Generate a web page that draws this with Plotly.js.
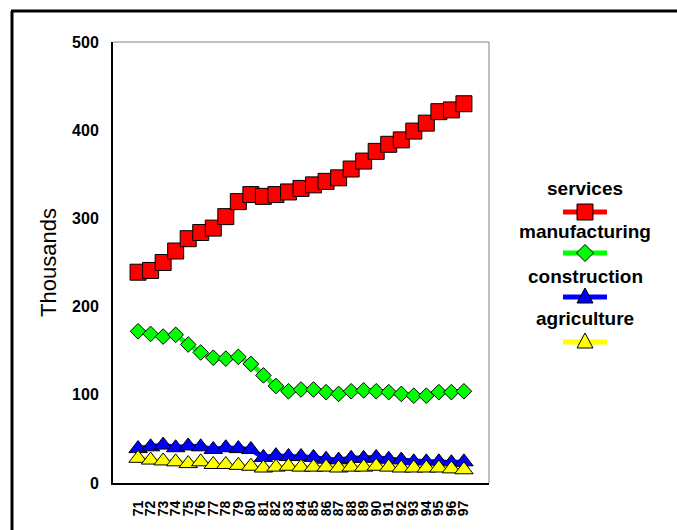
<!DOCTYPE html>
<html>
<head>
<meta charset="utf-8">
<script src="https://cdn.plot.ly/plotly-3.0.1.min.js"></script>
<style>html,body{margin:0;padding:0;background:#fff}#chart{width:677px;height:530px}</style>
</head>
<body>
<div id="chart"></div>
<script>
const years = ['71','72','73','74','75','76','77','78','79','80','81','82','83','84','85','86','87','88','89','90','91','92','93','94','95','96','97'];
const seriesNames = ['services','manufacturing','construction','agriculture'];
const services = [239,241,250,263,277,284,289,302,319,327,325,327,330,334,338,342,346,356,365,376,384,389,399,408,421,423,430];
const manufacturing = [172,169,166,168,157,148,142,141,143,135,122,110,104,106,106,103,101,104,105,104,103,101,99,99,103,103,104];
const construction = [39,41,43,40,42,41,38,40,39,38,29,31,30,30,29,27,26,28,28,29,27,26,24,24,24,23,24];
const agriculture = [28,26,25,24,22,24,21,21,20,19,17,18,19,18,18,18,17,18,18,19,18,17,17,17,17,16,15];
const yTicks = [0,100,200,300,400,500];

const values = [services, manufacturing, construction, agriculture];
const colors = ['#FF0000','#00FF00','#0000FF','#FFFF00'];
const symbols = ['square','diamond','triangle-up','triangle-up'];
const sizes = [16,12,16,16];

const FONT = 'Arial, "Liberation Sans", sans-serif';

const traces = values.map((v,i)=>({
  type:'scatter', mode:'lines+markers', name:seriesNames[i],
  x:years, y:v,
  line:{color:colors[i], width:5},
  marker:{symbol:symbols[i], size:sizes[i], color:colors[i], line:{color:'#000', width:1}},
  showlegend:false, hoverinfo:'x+y+name'
}));

// layout geometry (paper coords)
const W=677,H=530, L=113, R=489, T=42, B=483;
const px = x => (x-L)/(R-L);
const py = y => (B-y)/(B-T);

const shapes = [
  // outer frame (left & top)
  {type:'line', xref:'paper', yref:'paper', x0:px(12), x1:px(12), y0:py(11), y1:py(535), line:{color:'#000', width:3}},
  {type:'line', xref:'paper', yref:'paper', x0:px(11), x1:px(680), y0:py(11), y1:py(11), line:{color:'#000', width:3}},
  // plot frame top & right (gray thin)
  {type:'line', xref:'paper', yref:'paper', x0:0, x1:1, y0:1, y1:1, line:{color:'#808080', width:1}},
  {type:'line', xref:'paper', yref:'paper', x0:1, x1:1, y0:0, y1:1, line:{color:'#808080', width:1}}
];
const annotations = [];
const legNameY = [188,232,276,318];
const legLineY = [212,253,297,342];
const legX = 585;
const markerPaths = [
  'M-8,-8H8V8H-8Z',
  'M-8.5,0L0,8.5L8.5,0L0,-8.5Z',
  'M-8,-6L8,-6L0,9Z',
  'M-8,-6L8,-6L0,9Z'
];
seriesNames.forEach((n,i)=>{
  annotations.push({xref:'paper', yref:'paper', x:px(legX), y:py(legNameY[i]), text:'<b>'+n+'</b>',
    showarrow:false, xanchor:'center', yanchor:'middle', font:{family:FONT, size:19, color:'#000'}});
  shapes.push({type:'line', xref:'paper', yref:'paper', x0:px(563), x1:px(607), y0:py(legLineY[i]), y1:py(legLineY[i]),
    line:{color:colors[i], width:5}});
  shapes.push({type:'path', xref:'paper', yref:'paper', xsizemode:'pixel', ysizemode:'pixel',
    xanchor:px(legX), yanchor:py(legLineY[i]), path:markerPaths[i],
    fillcolor:colors[i], line:{color:'#000', width:1}});
});

const layout = {
  width:W, height:H,
  margin:{l:L, r:W-R, t:T, b:H-B, pad:0},
  paper_bgcolor:'#fff', plot_bgcolor:'#fff',
  font:{family:FONT, color:'#000'},
  showlegend:false,
  xaxis:{type:'category', range:[-2,28], showgrid:false, zeroline:false,
    showline:true, linecolor:'#000', linewidth:2, ticks:'', tickangle:-90,
    tickmode:'array', tickvals:years, ticktext:years,
    tickfont:{family:FONT, size:14, color:'#000', weight:'bold'}, ticklabelstandoff:10, automargin:false},
  yaxis:{range:[0,500], tickvals:yTicks, showgrid:false, zeroline:false,
    showline:true, linecolor:'#000', linewidth:2, ticks:'',
    tickfont:{family:FONT, size:16, color:'#000', weight:'bold'}, ticklabelstandoff:9,
    title:{text:'Thousands', font:{family:FONT, size:22, color:'#000'}, standoff:9}, automargin:false},
  shapes:shapes, annotations:annotations
};

Plotly.newPlot('chart', traces, layout, {displayModeBar:false, staticPlot:true});
</script>
</body>
</html>
